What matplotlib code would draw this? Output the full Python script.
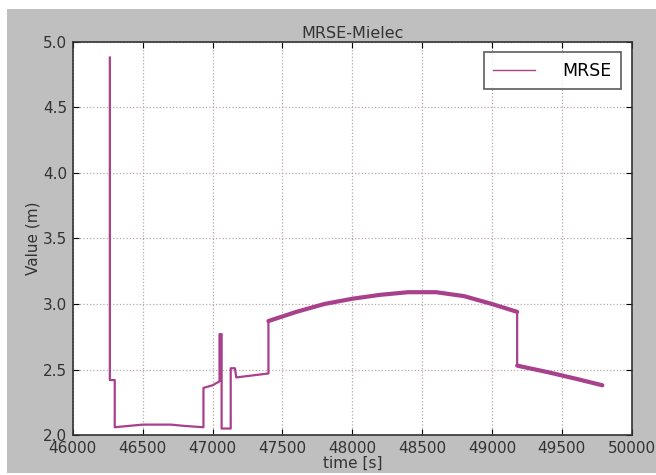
import numpy as np
import matplotlib
matplotlib.use('Agg')
import matplotlib.pyplot as plt
from matplotlib.patches import Rectangle

# MRSE over time
time_s = [46265, 46265, 46300, 46300, 46400, 46500, 46600, 46700, 46800, 46935,
          46935, 47000, 47050, 47050, 47065, 47065, 47130, 47130, 47160, 47170,
          47400, 47400, 47600, 47800, 48000, 48200, 48400, 48600, 48800, 49000,
          49180, 49180, 49400, 49600, 49790]
mrse_m = [4.88, 2.42, 2.42, 2.06, 2.07, 2.08, 2.08, 2.08, 2.07, 2.06,
          2.36, 2.38, 2.41, 2.77, 2.77, 2.05, 2.05, 2.51, 2.51, 2.44,
          2.47, 2.87, 2.94, 3.00, 3.04, 3.07, 3.09, 3.09, 3.06, 3.00,
          2.94, 2.53, 2.48, 2.43, 2.38]
# dense-sample stretches of the track look heavier
heavy_parts = [(21, 31), (31, 35)]

xticks = [46000, 46500, 47000, 47500, 48000, 48500, 49000, 49500, 50000]
yticks = [2.0, 2.5, 3.0, 3.5, 4.0, 4.5, 5.0]

line_color = '#a8408c'

fig = plt.figure(figsize=(6.56, 4.75), dpi=100)
fig.patch.set_facecolor('white')
fig.patches.append(Rectangle((7 / 656, 2 / 475), 649 / 656, 464 / 475,
                             transform=fig.transFigure, facecolor='#bfbfbf',
                             edgecolor='none', zorder=-10))

ax = fig.add_axes([0.111, 0.084, 0.852, 0.828])
ax.plot(time_s, mrse_m, color=line_color, linewidth=1.6, label='MRSE')
for a, b in heavy_parts:
    ax.plot(time_s[a:b], mrse_m[a:b], color=line_color, linewidth=3.0,
            solid_capstyle='round')

ax.set_xlim(46000, 50000)
ax.set_ylim(2.0, 5.0)
ax.set_xticks(xticks)
ax.set_yticks(yticks)
ax.set_xticklabels([str(t) for t in xticks], fontsize=11, color='#333333')
ax.set_yticklabels([f'{v:.1f}' for v in yticks], fontsize=11, color='#333333')
ax.tick_params(direction='in', top=True, right=True, length=4, pad=4)

ax.grid(True, linestyle=':', color='#b8a8a8', linewidth=0.9)
for s in ax.spines.values():
    s.set_linewidth(1.2)
    s.set_color('#333333')

ax.set_title('MRSE-Mielec', fontsize=11.5, color='#333333', pad=3)
ax.set_xlabel('time [s]', fontsize=11, color='#333333', labelpad=0)
ax.set_ylabel('Value (m)', fontsize=11, color='#333333', labelpad=2)

leg = ax.legend(loc='upper right', fontsize=12.5, frameon=True, fancybox=False,
                handlelength=2.4, borderpad=0.55, handletextpad=1.6,
                borderaxespad=0.6)
leg.get_frame().set_edgecolor('#333333')
leg.get_frame().set_linewidth(1.2)
for h in leg.get_lines():
    h.set_linewidth(1.0)

fig.savefig('out.png', dpi=100)
